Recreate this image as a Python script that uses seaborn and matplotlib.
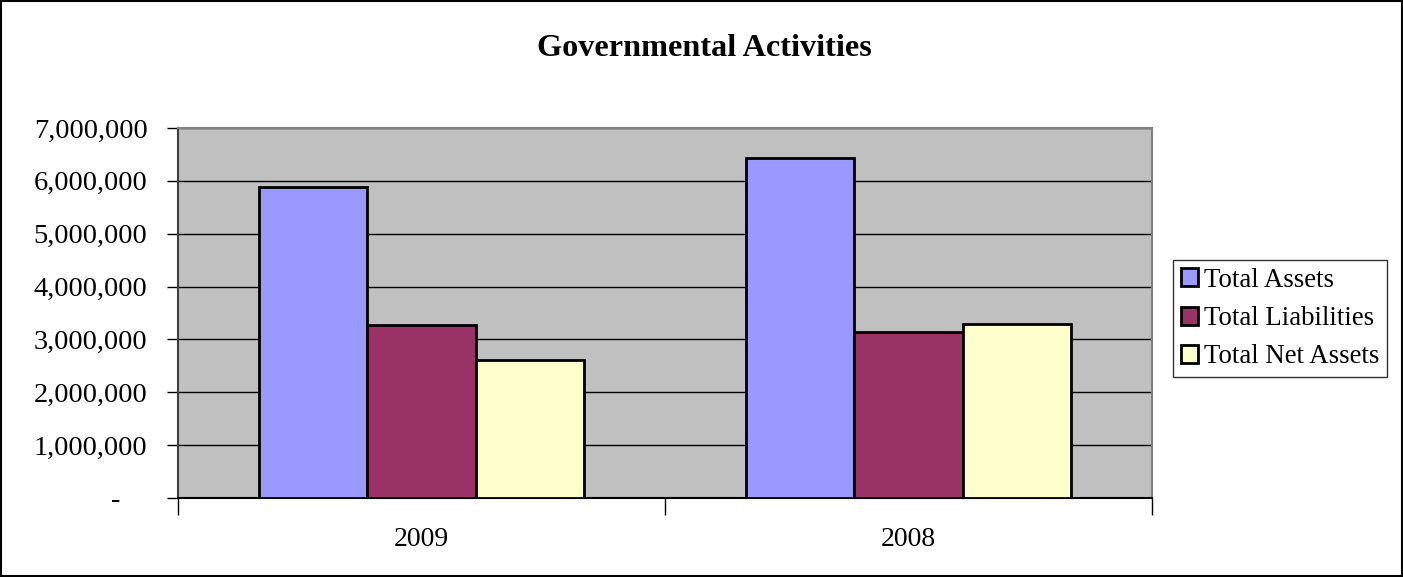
import pandas as pd
import numpy as np
import matplotlib.pyplot as plt
import matplotlib.ticker as mticker
from matplotlib.patches import Rectangle
import seaborn as sns

# Werte
jahre = ['2009', '2008']
serien = ['Total Assets', 'Total Liabilities', 'Total Net Assets']
total_assets = [5880000, 6440000]
total_liabilities = [3280000, 3140000]
total_net_assets = [2600000, 3290000]
farben = ['#9999FF', '#993366', '#FFFFCC']

df = pd.DataFrame({
    'Jahr': jahre * 3,
    'Serie': np.repeat(serien, len(jahre)),
    'Wert': total_assets + total_liabilities + total_net_assets,
})

sns.set_style('white')
plt.rcParams['font.family'] = ['Liberation Serif', 'DejaVu Serif']
plt.rcParams['text.color'] = 'black'
plt.rcParams['xtick.color'] = 'black'
plt.rcParams['ytick.color'] = 'black'

fig = plt.figure(figsize=(14.03, 5.77), dpi=100)
ax = fig.add_axes([0.1269, 0.1374, 0.6942, 0.6406])
ax.set_facecolor('#C0C0C0')

sns.barplot(data=df, x='Jahr', y='Wert', hue='Serie', order=jahre, hue_order=serien,
            palette=farben, width=0.667, gap=0, edgecolor='black', linewidth=2,
            saturation=1, errorbar=None, ax=ax, zorder=3)

ax.set_ylim(0, 7000000)
ax.set_xlim(-0.5, 1.5)
ax.yaxis.set_major_locator(mticker.MultipleLocator(1000000))
# Buchhaltungsformat: Null als Strich, etwas eingerückt
ax.yaxis.set_major_formatter(mticker.FuncFormatter(lambda v, p: '-   \u2009' if v == 0 else f'{int(v):,}'))
ax.grid(axis='y', color='black', linewidth=1, zorder=1)
ax.set_axisbelow(True)

# Kategorie-Striche zwischen den Gruppen, Beschriftung in der Mitte
ax.set_xticks([-0.5, 0.5, 1.5])
ax.set_xticklabels([])
ax.set_xticks([0, 1], minor=True)
ax.set_xticklabels(jahre, minor=True)
ax.tick_params(axis='x', which='major', direction='out', length=12, width=1, bottom=True)
ax.tick_params(axis='x', which='minor', length=0, pad=21, labelsize=20)
ax.tick_params(axis='y', direction='out', length=8, width=1, left=True, labelsize=20.5, pad=14)

ax.set_xlabel('')
ax.set_ylabel('')
for s in ['top', 'right']:
    ax.spines[s].set_color('#808080')
    ax.spines[s].set_linewidth(1.5)
ax.spines['left'].set_color('#404040')
ax.spines['left'].set_linewidth(1.5)
ax.spines['bottom'].set_color('black')
ax.spines['bottom'].set_linewidth(1.5)

ax.get_legend().remove()
handles = [Rectangle((0, 0), 1, 1, facecolor=c, edgecolor='black', linewidth=2) for c in farben]
leg = fig.legend(handles, serien, loc='center left', bbox_to_anchor=(0.836, 0.448),
                 fontsize=19.3, frameon=True, fancybox=False, edgecolor='black',
                 handlelength=0.65, handleheight=0.65, handletextpad=0.2,
                 labelspacing=0.5, borderpad=0.3, borderaxespad=0)
leg.get_frame().set_linewidth(1)

fig.suptitle('Governmental Activities', x=0.502, y=0.941, fontsize=23.2, fontweight='bold')

fig.patches.append(Rectangle((0.0007, 0.0012), 0.9986, 0.9976, transform=fig.transFigure,
                             fill=False, edgecolor='black', linewidth=1.5))

fig.savefig('out.png', dpi=100)
